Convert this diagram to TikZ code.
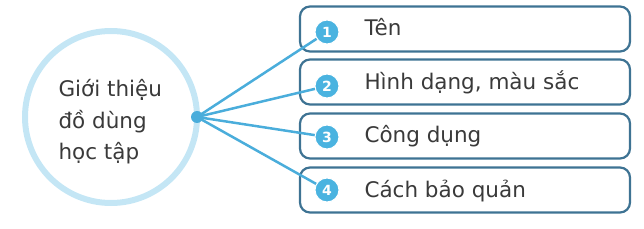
\documentclass[tikz,border=0pt]{standalone}
\usepackage{fontspec}
\setmainfont{DejaVu Sans}
\definecolor{ringc}{HTML}{C4E6F5}
\definecolor{linec}{HTML}{4AADDB}
\definecolor{boxc}{HTML}{3E7393}
\definecolor{numc}{HTML}{4AB3E0}
\definecolor{txtc}{HTML}{3A3A3A}
\begin{document}
\begin{tikzpicture}[x=1pt,y=-1pt,
  itembox/.style={draw=boxc,line width=2.2pt,rounded corners=10pt,minimum width=330pt,minimum height=45pt,inner sep=0pt},
  numdot/.style={circle,fill=numc,draw=white,line width=1pt,minimum size=24pt,inner sep=0pt,text=white,font=\fontsize{14}{14}\selectfont\bfseries},
  conn/.style={draw=linec,line width=2.5pt},
  itemtxt/.style={anchor=base west,text=txtc,font=\fontsize{21.5}{22}\selectfont}]
\useasboundingbox (0,0) rectangle (644,229);
\node[circle,draw=ringc,line width=6pt,minimum size=172pt] (ring) at (111,117) {};
\node[align=left,text=txtc,font=\fontsize{21.5}{31.5}\selectfont,anchor=west] (title) at (55,122) {Giới thiệu\\đồ dùng\\học tập};
\node[circle,fill=linec,minimum size=12pt,inner sep=0pt] (hub) at (197,117) {};
\node[itembox] (b1) at (465,29) {};
\node[itembox] (b2) at (465,82) {};
\node[itembox] (b3) at (465,136) {};
\node[itembox] (b4) at (465,190) {};
\draw[conn] (hub.center) -- (327,32) coordinate (e1);
\draw[conn] (hub.center) -- (327,86) coordinate (e2);
\draw[conn] (hub.center) -- (327,137) coordinate (e3);
\draw[conn] (hub.center) -- (327,190) coordinate (e4);
\node[numdot] (n1) at (e1) {1};
\node[numdot] (n2) at (e2) {2};
\node[numdot] (n3) at (e3) {3};
\node[numdot] (n4) at (e4) {4};
\node[itemtxt] (t1) at (361,36) {Tên};
\node[itemtxt] (t2) at (361,90) {Hình dạng, màu sắc};
\node[itemtxt] (t3) at (361,143) {Công dụng};
\node[itemtxt] (t4) at (361,197) {Cách bảo quản};
\end{tikzpicture}
\end{document}
